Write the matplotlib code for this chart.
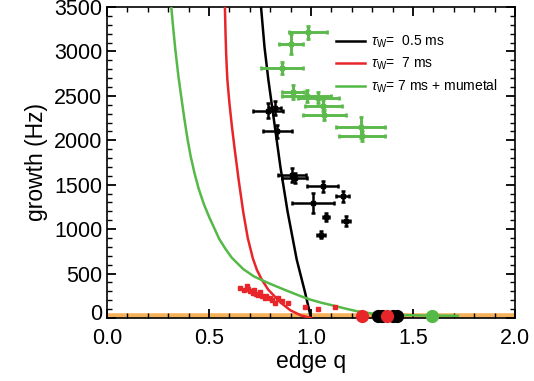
import numpy as np
import matplotlib
matplotlib.use('Agg')
import matplotlib.pyplot as plt
import matplotlib.transforms as mtransforms
from matplotlib.ticker import MultipleLocator

plt.rcParams['font.family'] = ['Liberation Sans', 'DejaVu Sans']
plt.rcParams['mathtext.fontset'] = 'custom'
plt.rcParams['mathtext.rm'] = 'Liberation Sans'
plt.rcParams['mathtext.it'] = 'Liberation Sans:italic'

# model curves
q_black = [0.755, 0.772, 0.791, 0.82, 0.85, 0.885, 0.93, 0.971, 1.0]
g_black = [3500, 3050, 2680, 2200, 1700, 1200, 657, 286, 0]

q_red = [0.578, 0.581, 0.584, 0.587, 0.59, 0.60, 0.612, 0.627, 0.645, 0.668,
         0.69, 0.715, 0.735, 0.758, 0.79, 0.85, 0.9, 0.95, 1.0]
g_red = [3500, 3200, 2980, 2820, 2680, 2420, 2160, 1880, 1560, 1190,
         900, 670, 540, 435, 320, 175, 85, 30, 0]

q_green = [0.315, 0.325, 0.335, 0.35, 0.365, 0.38, 0.395, 0.41, 0.43, 0.45,
           0.475, 0.5, 0.525, 0.55, 0.58, 0.611, 0.668, 0.72, 0.789, 0.87,
           0.95, 0.995, 1.05, 1.109, 1.17, 1.223, 1.3, 1.4, 1.55, 1.72]
g_green = [3500, 3250, 3020, 2720, 2470, 2230, 2010, 1820, 1620, 1450,
           1280, 1140, 1015, 890, 780, 680, 550, 468, 395, 318,
           245, 208, 172, 140, 105, 77, 50, 35, 28, 25]

# tau_W = 0.5 ms measurements
bq = [0.79, 0.824, 0.835, 0.907, 0.92, 1.057, 1.155, 1.011, 1.074, 1.17, 1.047]
bg = [2335, 2365, 2099, 1612, 1575, 1481, 1368, 1294, 1133, 1088, 938]
bqe = [0.073, 0.03, 0.072, 0.067, 0.06, 0.076, 0.033, 0.102, 0.015, 0.02, 0.02]
bge = [80, 80, 75, 80, 60, 60, 60, 112, 45, 55, 40]

# tau_W = 7 ms + mumetal measurements
gq = [0.984, 0.902, 0.856, 0.913, 0.978, 1.035, 1.06, 1.065, 1.243, 1.25]
gg = [3215, 3084, 2811, 2545, 2500, 2478, 2388, 2286, 2144, 2050]
gqe = [0.092, 0.061, 0.103, 0.055, 0.12, 0.1, 0.09, 0.105, 0.12, 0.115]
gge = [75, 112, 70, 80, 70, 60, 60, 60, 120, 60]

# tau_W = 7 ms measurements
rq = [0.652, 0.67, 0.685, 0.69, 0.70, 0.717, 0.72, 0.73, 0.742, 0.75, 0.758,
      0.775, 0.78, 0.80, 0.807, 0.824, 0.84, 0.86, 0.889, 0.971, 1.036, 1.118]
rg = [343, 320, 357, 330, 300, 283, 310, 270, 264, 290, 245,
      227, 250, 220, 208, 171, 230, 190, 171, 126, 96, 126]

# stable points on the baseline
stable_black = [1.33, 1.35, 1.40, 1.42]
stable_red = [1.248, 1.371]
stable_green = [1.591]

black = 'black'
red = '#e8262a'
green = '#55b947'
green_bar = '#5cba4c'
orange = '#f5b05a'

fig = plt.figure(figsize=(5.34, 3.81), dpi=100)
ax = fig.add_axes([0.2004, 0.1654, 0.764, 0.8162])

ax.axhline(25, color=orange, lw=4, zorder=1)

ax.plot(q_black, g_black, color=black, lw=1.8, label=r'$\tau_{\mathrm{W}}$=  0.5 ms', zorder=3)
ax.plot(q_red, g_red, color=red, lw=1.8, label=r'$\tau_{\mathrm{W}}$=  7 ms', zorder=3)
ax.plot(q_green, g_green, color=green, lw=1.8, label=r'$\tau_{\mathrm{W}}$= 7 ms + mumetal', zorder=3)

ax.errorbar(bq, bg, xerr=bqe, yerr=bge, fmt='s', ms=2.5, color=black,
            elinewidth=1.8, capsize=1.5, capthick=1.8, zorder=4)
ax.errorbar(gq, gg, xerr=gqe, yerr=gge, fmt='s', ms=2.5, color=green_bar,
            elinewidth=2.1, capsize=1.5, capthick=2.0, zorder=4)
ax.errorbar(rq, rg, xerr=0.008, yerr=20, fmt='s', ms=3.3, color=red,
            elinewidth=1.3, capsize=0, zorder=4)

ax.plot(stable_black, [25] * len(stable_black), 'o', color=black, ms=8.5, zorder=5, clip_on=False)
ax.plot(stable_red, [25] * len(stable_red), 'o', color=red, ms=8.5, zorder=6, clip_on=False)
ax.plot(stable_green, [25] * len(stable_green), 'o', color=green, ms=8.5, zorder=6, clip_on=False)

ax.set_xlim(0, 2.0)
ax.set_ylim(0, 3500)
ax.xaxis.set_major_locator(MultipleLocator(0.5))
ax.xaxis.set_minor_locator(MultipleLocator(0.1))
ax.yaxis.set_major_locator(MultipleLocator(500))
ax.yaxis.set_minor_locator(MultipleLocator(100))
ax.xaxis.set_major_formatter(matplotlib.ticker.FormatStrFormatter('%.1f'))
ax.tick_params(which='both', direction='in', top=True, right=True, labelsize=15.5)
ax.tick_params(which='major', length=6.5, width=1.3)
ax.tick_params(which='minor', length=3.5, width=1.0)
ax.tick_params(axis='x', pad=7)
for s in ax.spines.values():
    s.set_linewidth(1.2)

ax.set_xlabel('edge q', fontsize=16.5, labelpad=1)
ax.set_ylabel('growth (Hz)', fontsize=16.5, labelpad=4)

# lift the "0" label on the y axis a little, as in the original
fig.canvas.draw()
lift = mtransforms.ScaledTranslation(0, 6 / 100, fig.dpi_scale_trans)
for lab in ax.get_yticklabels():
    if lab.get_text() == '0':
        lab.set_transform(lab.get_transform() + lift)

ax.legend(loc='upper left', bbox_to_anchor=(0.53, 0.955), frameon=False,
          fontsize=10, handlelength=2.1, handletextpad=0.45, labelspacing=0.4)

fig.savefig('out.png', dpi=100)
